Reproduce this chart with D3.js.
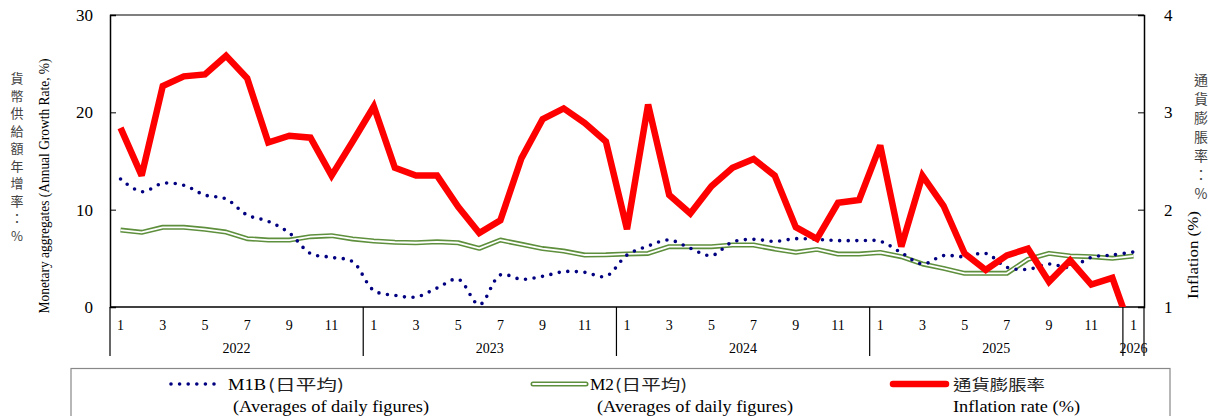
<!DOCTYPE html>
<html><head><meta charset="utf-8">
<script src="https://cdn.jsdelivr.net/npm/d3@7"></script>
<style>
html,body{margin:0;padding:0;background:#fff;}
svg{display:block;}
</style>
</head><body>
<svg id="chart" width="1213" height="416"></svg>
<script>
// ---- data ----
const years = [2022, 2023, 2024, 2025, 2026];
const monthsPerYear = [12, 12, 12, 12, 1];
const monthTickLabels = [1, 3, 5, 7, 9, 11];
const leftTicks = [0, 10, 20, 30];
const rightTicks = [1, 2, 3, 4];

// M1B (daily averages), annual growth %
const m1b = [13.15, 11.85, 12.7, 12.5, 11.5, 11.1, 9.45, 8.8, 7.6, 5.5, 5.1, 4.65,
  1.7, 1.2, 1.03, 1.95, 2.85, 0.24, 3.3, 2.85, 3.15, 3.63, 3.56, 3.15,
  5.34, 6.27, 6.88, 6.03, 5.28, 6.68, 6.95, 6.75, 7.02, 6.95, 6.82, 6.82,
  6.75, 5.58, 4.42, 5.28, 5.17, 5.51, 4.08, 3.87, 4.42, 4.08, 5.1, 5.34,
  5.65];
// M2 (daily averages), annual growth %
const m2 = [7.9, 7.67, 8.19, 8.19, 7.98, 7.7, 7.02, 6.88, 6.88, 7.23, 7.33, 6.99,
  6.78, 6.65, 6.6, 6.7, 6.6, 6.03, 6.88, 6.44, 6.0, 5.75, 5.34, 5.36,
  5.45, 5.5, 6.2, 6.2, 6.2, 6.37, 6.37, 5.96, 5.62, 5.92, 5.44, 5.44,
  5.6, 5.17, 4.42, 3.97, 3.46, 3.46, 3.46, 4.9, 5.51, 5.24, 5.17, 5.0,
  5.24];
// Inflation rate %
const cpi = [2.84, 2.35, 3.27, 3.37, 3.39, 3.58, 3.35, 2.69, 2.76, 2.74, 2.35, 2.70,
  3.06, 2.43, 2.35, 2.35, 2.03, 1.76, 1.89, 2.53, 2.93, 3.04, 2.89, 2.70,
  1.80, 3.08, 2.15, 1.96, 2.24, 2.43, 2.52, 2.35, 1.82, 1.70, 2.07, 2.10,
  2.66, 1.62, 2.35, 2.04, 1.55, 1.38, 1.53, 1.60, 1.26, 1.48, 1.23, 1.30,
  0.69];

// categories (year-month)
const categories = [];
years.forEach((y, yi) => { for (let m = 1; m <= monthsPerYear[yi]; m++) categories.push({ y, m, key: y + "-" + m }); });

// ---- layout ----
const L = 110, R = 1144, T = 15, B = 307;
const serif = "'Liberation Serif','Times New Roman',serif";
const cjk = "'Noto Sans CJK TC','Noto Sans CJK SC',sans-serif";

const svg = d3.select("#chart");
const x = d3.scaleBand().domain(categories.map(d => d.key)).range([L, R]).paddingInner(0).paddingOuter(0);
const bw = x.bandwidth();
const cx = i => x(categories[i].key) + bw / 2;
const yL = d3.scaleLinear().domain([0, 30]).range([B, T]);
const yR = d3.scaleLinear().domain([1, 4]).range([B, T]);

// frame top line
svg.append("line").attr("x1", L).attr("x2", R).attr("y1", T).attr("y2", T).attr("stroke", "#555").attr("stroke-width", 1.5);

// left axis
const gL = svg.append("g").attr("transform", `translate(${L},0)`)
  .call(d3.axisLeft(yL).tickValues(leftTicks).tickSize(-6).tickPadding(17).tickFormat(d3.format("d")));
gL.select(".domain").attr("stroke", "#000").attr("stroke-width", 1.5);
gL.selectAll(".tick line").attr("stroke", "#000");
gL.selectAll(".tick text").attr("font-family", serif).attr("font-size", 17).attr("fill", "#000");
gL.selectAll(".tick").filter(d => d === 0 || d === 30).select("line").remove();

// right axis
const gR = svg.append("g").attr("transform", `translate(${R},0)`)
  .call(d3.axisRight(yR).tickValues(rightTicks).tickSize(-6).tickPadding(20).tickFormat(d3.format("d")));
gR.select(".domain").attr("stroke", "#000").attr("stroke-width", 1.5);
gR.selectAll(".tick line").attr("stroke", "#000");
gR.selectAll(".tick text").attr("font-family", serif).attr("font-size", 17).attr("fill", "#000");
gR.selectAll(".tick").filter(d => d === 1 || d === 4).select("line").remove();

// bottom baseline
svg.append("line").attr("x1", L).attr("x2", R).attr("y1", B).attr("y2", B).attr("stroke", "#000").attr("stroke-width", 1.5);

// year separators
let idx = 0;
const yearStart = [];
years.forEach((y, yi) => { yearStart.push(idx); idx += monthsPerYear[yi]; });
yearStart.forEach((s) => {
  const xx = x(categories[s].key);
  svg.append("line").attr("x1", xx).attr("x2", xx).attr("y1", B).attr("y2", 356).attr("stroke", "#000").attr("stroke-width", 1.2);
});
svg.append("line").attr("x1", R).attr("x2", R).attr("y1", B).attr("y2", 356).attr("stroke", "#000").attr("stroke-width", 1.2);

// month labels
categories.forEach((c, i) => {
  if (monthTickLabels.includes(c.m)) {
    svg.append("text").attr("x", cx(i)).attr("y", 330).attr("text-anchor", "middle")
      .attr("font-family", serif).attr("font-size", 14).text(c.m);
  }
});
// year labels
years.forEach((y, yi) => {
  const s = yearStart[yi], e = s + monthsPerYear[yi] - 1;
  const mid = (x(categories[s].key) + x(categories[e].key) + bw) / 2;
  svg.append("text").attr("x", mid).attr("y", 353).attr("text-anchor", "middle")
    .attr("font-family", serif).attr("font-size", 14).text(y);
});

// clip
svg.append("clipPath").attr("id", "plotclip").append("rect").attr("x", L).attr("y", T).attr("width", R - L).attr("height", B - T);

// M2 double line
const lineM2 = d3.line().x((d, i) => cx(i)).y(d => yL(d));
svg.append("path").datum(m2).attr("d", lineM2).attr("fill", "none").attr("stroke", "#5E8F3C").attr("stroke-width", 5).attr("stroke-linejoin", "round");
svg.append("path").datum(m2).attr("d", lineM2).attr("fill", "none").attr("stroke", "#fff").attr("stroke-width", 1.8).attr("stroke-linejoin", "round");

// M1B dotted
const lineM1 = d3.line().x((d, i) => cx(i)).y(d => yL(d)).curve(d3.curveCatmullRom.alpha(0.5));
svg.append("path").datum(m1b).attr("d", lineM1).attr("fill", "none").attr("stroke", "#000080")
  .attr("stroke-width", 3.6).attr("stroke-linecap", "round").attr("stroke-dasharray", "0 8.6");

// Inflation
const lineC = d3.line().x((d, i) => cx(i)).y(d => yR(d));
svg.append("path").datum(cpi).attr("d", lineC).attr("clip-path", "url(#plotclip)").attr("fill", "none")
  .attr("stroke", "#FF0000").attr("stroke-width", 6.5).attr("stroke-linejoin", "miter").attr("stroke-miterlimit", 3);

// Left axis titles
const leftCn = "貨幣供給額年增率：%".split("");
leftCn.forEach((ch, i) => {
  svg.append("text").attr("x", 17).attr("y", 83 + i * 17.5).attr("text-anchor", "middle")
    .attr("font-family", cjk).attr("font-size", 13).attr("fill", "#444").text(ch);
});
svg.append("text").attr("transform", "translate(49,186) rotate(-90)").attr("text-anchor", "middle")
  .attr("font-family", serif).attr("font-size", 14).attr("textLength", 255).attr("lengthAdjust", "spacingAndGlyphs")
  .text("Monetary aggregates (Annual Growth Rate, %)");

// Right axis titles
const rightCn = "通貨膨脹率：%".split("");
rightCn.forEach((ch, i) => {
  svg.append("text").attr("x", 1201).attr("y", 85 + i * 19).attr("text-anchor", "middle")
    .attr("font-family", cjk).attr("font-size", 14).attr("fill", "#444").text(ch);
});
svg.append("text").attr("transform", "translate(1198,255) rotate(-90)").attr("text-anchor", "middle")
  .attr("font-family", serif).attr("font-size", 14).attr("textLength", 88).attr("lengthAdjust", "spacingAndGlyphs")
  .text("Inflation (%)");

// Legend
svg.append("rect").attr("x", 71).attr("y", 368.5).attr("width", 1099).attr("height", 60).attr("fill", "none").attr("stroke", "#888").attr("stroke-width", 1.2);
const lg = svg.append("g");
const row1 = 390, row2 = 412;
// M1B sample
lg.append("line").attr("x1", 171).attr("x2", 217).attr("y1", 384).attr("y2", 384).attr("stroke", "#000080")
  .attr("stroke-width", 3.6).attr("stroke-linecap", "round").attr("stroke-dasharray", "0 8.6");
lg.append("text").attr("x", 228).attr("y", row1).attr("font-family", serif).attr("font-size", 16)
  .attr("textLength", 38).attr("lengthAdjust", "spacingAndGlyphs").text("M1B");
lg.append("text").attr("x", 268).attr("y", row1).attr("font-family", cjk).attr("font-size", 15).attr("fill", "#222")
  .attr("textLength", 76).attr("lengthAdjust", "spacingAndGlyphs").text("(日平均)");
lg.append("text").attr("x", 233).attr("y", row2).attr("font-family", serif).attr("font-size", 16)
  .attr("textLength", 196).attr("lengthAdjust", "spacingAndGlyphs").text("(Averages of daily figures)");
// M2 sample
lg.append("line").attr("x1", 533).attr("x2", 586).attr("y1", 384).attr("y2", 384).attr("stroke", "#5E8F3C").attr("stroke-width", 5).attr("stroke-linecap", "round");
lg.append("line").attr("x1", 533).attr("x2", 586).attr("y1", 384).attr("y2", 384).attr("stroke", "#fff").attr("stroke-width", 1.8).attr("stroke-linecap", "round");
lg.append("text").attr("x", 590).attr("y", row1).attr("font-family", serif).attr("font-size", 16)
  .attr("textLength", 24).attr("lengthAdjust", "spacingAndGlyphs").text("M2");
lg.append("text").attr("x", 615).attr("y", row1).attr("font-family", cjk).attr("font-size", 15).attr("fill", "#222")
  .attr("textLength", 72).attr("lengthAdjust", "spacingAndGlyphs").text("(日平均)");
lg.append("text").attr("x", 597).attr("y", row2).attr("font-family", serif).attr("font-size", 16)
  .attr("textLength", 196).attr("lengthAdjust", "spacingAndGlyphs").text("(Averages of daily figures)");
// Inflation sample
lg.append("line").attr("x1", 893).attr("x2", 946).attr("y1", 384).attr("y2", 384).attr("stroke", "#FF0000").attr("stroke-width", 6.5).attr("stroke-linecap", "round");
lg.append("text").attr("x", 953).attr("y", row1).attr("font-family", cjk).attr("font-size", 15).attr("fill", "#222")
  .attr("textLength", 92).attr("lengthAdjust", "spacingAndGlyphs").text("通貨膨脹率");
lg.append("text").attr("x", 953).attr("y", row2).attr("font-family", serif).attr("font-size", 16)
  .attr("textLength", 127).attr("lengthAdjust", "spacingAndGlyphs").text("Inflation rate (%)");
</script>
</body></html>
